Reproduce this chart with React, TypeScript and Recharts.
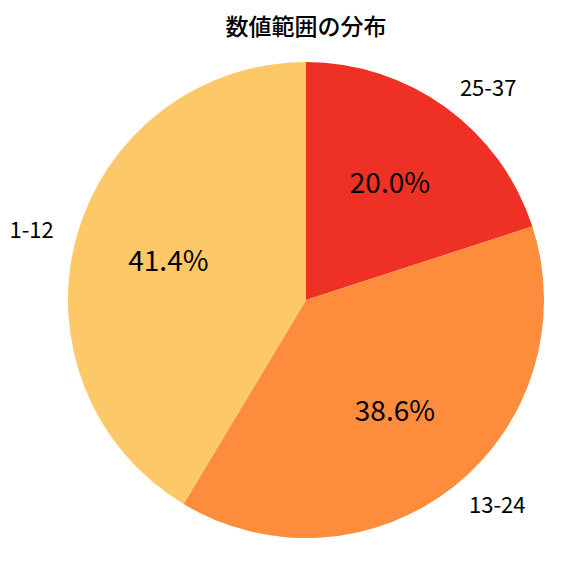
import { PieChart, Pie, Cell } from 'recharts';

const categories = ['25-37', '13-24', '1-12'];
const shares = [20.0, 38.6, 41.4];
const sliceColors = ['#EF3024', '#FD8C3C', '#FDC867'];
const title = '数値範囲の分布';

const FONT = '"Noto Sans CJK JP", "Noto Sans", sans-serif';
const RADIAN = Math.PI / 180;

const data = categories.map((name, i) => ({ name, value: shares[i] }));

// outer category label + inner percentage, like matplotlib's autopct
function renderLabel(props: any) {
  const { cx, cy, midAngle, outerRadius, name, percent } = props;
  const cos = Math.cos(-midAngle * RADIAN);
  const sin = Math.sin(-midAngle * RADIAN);
  const ox = cx + outerRadius * 1.1 * cos;
  const oy = cy + outerRadius * 1.1 * sin;
  const ix = cx + outerRadius * 0.6 * cos;
  const iy = cy + outerRadius * 0.6 * sin;
  return (
    <g>
      <text
        x={ox}
        y={oy - 2}
        textAnchor={cos >= 0 ? 'start' : 'end'}
        dominantBaseline="central"
        fontSize={22}
        fontFamily={FONT}
        fill="#000"
      >
        {name}
      </text>
      <text
        x={ix}
        y={iy - 3}
        textAnchor="middle"
        dominantBaseline="central"
        fontSize={28}
        fontFamily={FONT}
        fill="#000"
      >
        {(percent * 100).toFixed(1)}%
      </text>
    </g>
  );
}

export default function App() {
  return (
    <div style={{ position: 'absolute', left: 0, top: 0, width: 576, height: 576, background: '#fff' }}>
      <div
        style={{
          position: 'absolute',
          left: 0,
          top: 10,
          width: 612,
          textAlign: 'center',
          fontFamily: FONT,
          fontSize: 23,
          fontWeight: 500,
          lineHeight: '30px',
          color: '#000',
        }}
      >
        {title}
      </div>
      <PieChart width={576} height={576} margin={{ top: 0, right: 0, bottom: 0, left: 0 }}>
        <Pie
          data={data}
          dataKey="value"
          nameKey="name"
          cx={306}
          cy={300}
          outerRadius={238}
          startAngle={90}
          endAngle={-270}
          stroke="none"
          label={renderLabel}
          labelLine={false}
          isAnimationActive={false}
        >
          {data.map((d, i) => (
            <Cell key={d.name} fill={sliceColors[i]} />
          ))}
        </Pie>
      </PieChart>
    </div>
  );
}
